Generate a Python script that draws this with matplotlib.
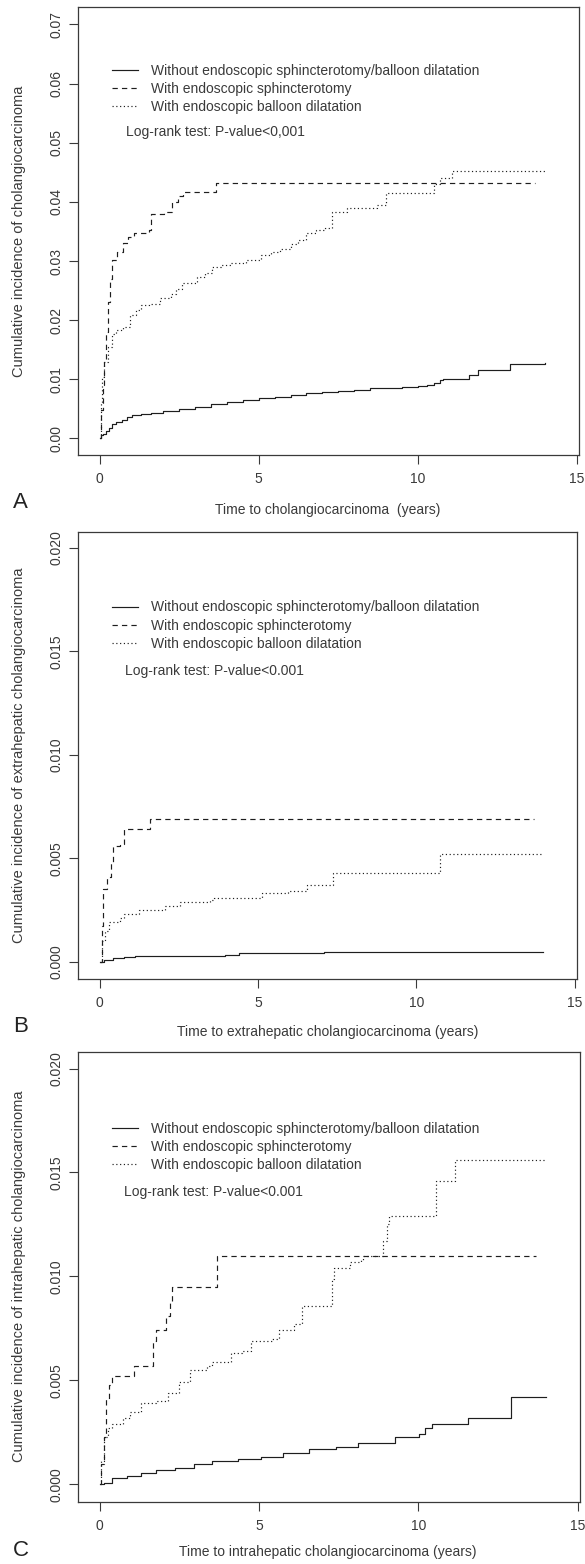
import matplotlib
matplotlib.use("Agg")
import matplotlib.pyplot as plt

plt.rcParams['font.family'] = ['Liberation Sans', 'DejaVu Sans']

# ---------------- data ----------------
series_labels = ["Without endoscopic sphincterotomy/balloon dilatation",
                 "With endoscopic sphincterotomy",
                 "With endoscopic balloon dilatation"]
logrank_a = "Log-rank test: P-value<0,001"
logrank_bc = "Log-rank test: P-value<0.001"

x_ticks = [0, 5, 10, 15]
a_yticks = [0.00, 0.01, 0.02, 0.03, 0.04, 0.05, 0.06, 0.07]
a_yticklabels = ["0.00", "0.01", "0.02", "0.03", "0.04", "0.05", "0.06", "0.07"]
bc_yticks = [0.000, 0.005, 0.010, 0.015, 0.020]
bc_yticklabels = ["0.000", "0.005", "0.010", "0.015", "0.020"]

# Panel A: all cholangiocarcinoma
a_none_t = [0, 0.05, 0.1, 0.2, 0.3, 0.4, 0.5, 0.7, 0.85, 1.0, 1.3, 1.6, 2.0, 2.5, 3.0, 3.5,
            4.0, 4.5, 5.0, 5.5, 6.0, 6.5, 7.0, 7.5, 8.0, 8.5, 9.0, 9.5, 10.0, 10.3, 10.5,
            10.7, 10.8, 11.6, 11.9, 12.9, 14.0]
a_none_y = [0, 0.0005, 0.0008, 0.0012, 0.0018, 0.0024, 0.0027, 0.0032, 0.0036, 0.0039, 0.0041,
            0.0043, 0.0046, 0.0050, 0.0054, 0.0058, 0.0061, 0.0065, 0.0068, 0.0070, 0.0073,
            0.0076, 0.0078, 0.0080, 0.0082, 0.0085, 0.0086, 0.0087, 0.0088, 0.0091, 0.0094,
            0.0098, 0.0100, 0.0108, 0.0116, 0.0126, 0.0127]
a_est_t = [0, 0.05, 0.1, 0.15, 0.2, 0.25, 0.32, 0.38, 0.55, 0.73, 0.9, 1.08, 1.55, 1.61,
           2.02, 2.26, 2.45, 2.61, 3.66, 13.7]
a_est_y = [0, 0.0048, 0.009, 0.013, 0.018, 0.023, 0.027, 0.0302, 0.0315, 0.033, 0.034,
           0.0348, 0.0352, 0.038, 0.0383, 0.040, 0.041, 0.0417, 0.0432, 0.0432]
a_ebd_t = [0, 0.03, 0.08, 0.15, 0.26, 0.38, 0.5, 0.73, 0.96, 1.15, 1.31, 1.55, 1.9, 2.25,
           2.4, 2.6, 3.07, 3.3, 3.54, 3.8, 4.13, 4.6, 5.07, 5.4, 5.66, 6.0, 6.24, 6.48, 6.8,
           7.07, 7.3, 7.77, 8.71, 9.0, 10.52, 10.7, 11.08, 14.0]
a_ebd_y = [0, 0.006, 0.0104, 0.013, 0.0155, 0.0177, 0.0183, 0.0189, 0.0209, 0.0218, 0.0225,
           0.0227, 0.0237, 0.0245, 0.0252, 0.0262, 0.0273, 0.028, 0.029, 0.0293, 0.0296,
           0.0302, 0.031, 0.0315, 0.0321, 0.0328, 0.0335, 0.0347, 0.0352, 0.0355, 0.0383,
           0.0389, 0.0395, 0.0415, 0.0431, 0.044, 0.0453, 0.0453]

# Panel B: extrahepatic
b_none_t = [0, 0.15, 0.41, 0.77, 1.12, 3.95, 4.4, 7.07, 14.0]
b_none_y = [0, 0.0001, 0.00016, 0.00024, 0.00029, 0.00032, 0.0004, 0.00048, 0.00048]
b_est_t = [0, 0.06, 0.12, 0.24, 0.35, 0.41, 0.65, 0.77, 1.59, 13.7]
b_est_y = [0, 0.0017, 0.0035, 0.0041, 0.0048, 0.0056, 0.0057, 0.0064, 0.0069, 0.0069]
b_ebd_t = [0, 0.06, 0.18, 0.3, 0.65, 0.77, 1.24, 2.06, 2.53, 3.48, 3.6, 5.13, 5.96, 6.55,
           7.37, 10.73, 14.0]
b_ebd_y = [0, 0.001, 0.0015, 0.0019, 0.0021, 0.0023, 0.0025, 0.0027, 0.0029, 0.003, 0.0031,
           0.0033, 0.0034, 0.0037, 0.0043, 0.0052, 0.0052]

# Panel C: intrahepatic
c_none_t = [0, 0.14, 0.37, 0.84, 1.31, 1.78, 2.36, 2.95, 3.53, 4.35, 5.05, 5.76, 6.58, 7.4,
            8.1, 9.27, 10.03, 10.2, 10.44, 11.55, 12.9, 14.0]
c_none_y = [0, 0.00005, 0.0003, 0.0004, 0.00055, 0.00067, 0.0008, 0.001, 0.0011, 0.0012,
            0.0013, 0.0015, 0.0017, 0.0018, 0.002, 0.0023, 0.0024, 0.0027, 0.0029, 0.0032,
            0.0042, 0.0042]
c_est_t = [0, 0.05, 0.12, 0.2, 0.28, 0.37, 1.08, 1.66, 1.78, 2.07, 2.19, 2.27, 3.67, 13.7]
c_est_y = [0, 0.001, 0.0023, 0.0041, 0.0048, 0.0052, 0.0057, 0.0069, 0.0074, 0.0081, 0.0087,
           0.0095, 0.011, 0.011]
c_ebd_t = [0, 0.05, 0.14, 0.26, 0.37, 0.73, 0.96, 1.31, 1.78, 2.13, 2.48, 2.83, 3.36, 3.53,
           4.12, 4.47, 4.76, 5.4, 5.64, 6.11, 6.34, 7.28, 7.34, 7.86, 8.21, 8.27, 8.9, 9.0,
           9.09, 10.55, 11.14, 14.0]
c_ebd_y = [0, 0.0011, 0.0023, 0.0027, 0.0029, 0.0032, 0.0035, 0.0039, 0.004, 0.0044, 0.0049,
           0.0055, 0.0057, 0.0059, 0.0063, 0.0064, 0.0069, 0.007, 0.0074, 0.0077, 0.0086,
           0.0099, 0.0104, 0.0107, 0.0108, 0.011, 0.0117, 0.0125, 0.0129, 0.0146, 0.0156,
           0.0156]

# ---------------- figure ----------------
W, H = 585, 1564
fig = plt.figure(figsize=(W / 100, H / 100), dpi=100)

FS = 10
line_col = "#1e1e1e"
text_col = "#3a3a3a"
frame_col = "#3a3a3a"
styles = [dict(linestyle="-"),
          dict(linestyle=(0, (4.5, 3.5))),
          dict(linestyle=(0, (1.0, 2.2)))]


def px_axes(left, top, right, bottom):
    return fig.add_axes([left / W, 1 - bottom / H, (right - left) / W, (bottom - top) / H])


panels = [
    dict(box=(78.4, 6.7, 579, 455), ylim=(-0.0028, 0.0730), yt=a_yticks, ytl=a_yticklabels,
         data=[(a_none_t, a_none_y), (a_est_t, a_est_y), (a_ebd_t, a_ebd_y)],
         ylabel="Cumulative incidence of cholangiocarcinoma",
         xlabel="Time to cholangiocarcinoma  (years)", xlab_y=510, letter="A", let_y=503,
         leg_top=64.0, lr_y=132, lr_x=126, lr=logrank_a),
    dict(box=(78.4, 531.5, 577, 979), ylim=(-0.00084, 0.0208), yt=bc_yticks, ytl=bc_yticklabels,
         data=[(b_none_t, b_none_y), (b_est_t, b_est_y), (b_ebd_t, b_ebd_y)],
         ylabel="Cumulative incidence of extrahepatic cholangiocarcinoma",
         xlabel="Time to extrahepatic cholangiocarcinoma (years)", xlab_y=1032, letter="B",
         let_y=1027, leg_top=600.5, lr_y=671, lr_x=125, lr=logrank_bc),
    dict(box=(78.4, 1051.9, 580, 1501.6), ylim=(-0.00083, 0.0208), yt=bc_yticks,
         ytl=bc_yticklabels,
         data=[(c_none_t, c_none_y), (c_est_t, c_est_y), (c_ebd_t, c_ebd_y)],
         ylabel="Cumulative incidence of intrahepatic cholangiocarcinoma",
         xlabel="Time to intrahepatic cholangiocarcinoma (years)", xlab_y=1552, letter="C",
         let_y=1550, leg_top=1122, lr_y=1192, lr_x=124, lr=logrank_bc),
]

for p in panels:
    l, t, r, b = p["box"]
    ax = px_axes(l, t, r, b)
    for (tt, yy), lab, st in zip(p["data"], series_labels, styles):
        ax.plot(tt, yy, drawstyle="steps-post", color=line_col, lw=0.85, label=lab, **st)
    ax.set_xlim(-0.67, 15.07)
    ax.set_ylim(*p["ylim"])
    ax.set_xticks(x_ticks)
    ax.set_xticklabels([str(v) for v in x_ticks])
    ax.set_yticks(p["yt"])
    ax.set_yticklabels(p["ytl"], rotation=90, va="center")
    ax.tick_params(axis="both", direction="out", length=6.5, width=0.8, color=frame_col,
                   labelsize=FS, labelcolor=text_col)
    ax.tick_params(axis="x", pad=6)
    ax.tick_params(axis="y", pad=4)
    for s in ax.spines.values():
        s.set_color(frame_col)
        s.set_linewidth(0.9)
    ax.set_ylabel(p["ylabel"], fontsize=10.5, color=text_col)
    ax.yaxis.set_label_coords((18.7 - l) / (r - l), 0.5)
    ax.yaxis.label.set_va("center")

    leg = ax.legend(loc="upper left",
                    bbox_to_anchor=((112 - l) / (r - l), (b - p["leg_top"]) / (b - t)),
                    frameon=False, fontsize=FS, handlelength=1.85, handletextpad=0.95,
                    labelspacing=0.3, borderpad=0, borderaxespad=0)
    for txt in leg.get_texts():
        txt.set_color(text_col)
    ax.text((p["lr_x"] - l) / (r - l), (b - p["lr_y"]) / (b - t), p["lr"],
            transform=ax.transAxes, fontsize=FS, color=text_col, ha="left", va="center")

    fig.text(328 / W, 1 - p["xlab_y"] / H, p["xlabel"], fontsize=FS, color=text_col,
             ha="center", va="center")
    fig.text(20.5 / W, 1 - p["let_y"] / H, p["letter"], fontsize=16, color="#222222",
             ha="center", va="center")

fig.savefig("out.png", dpi=100)
